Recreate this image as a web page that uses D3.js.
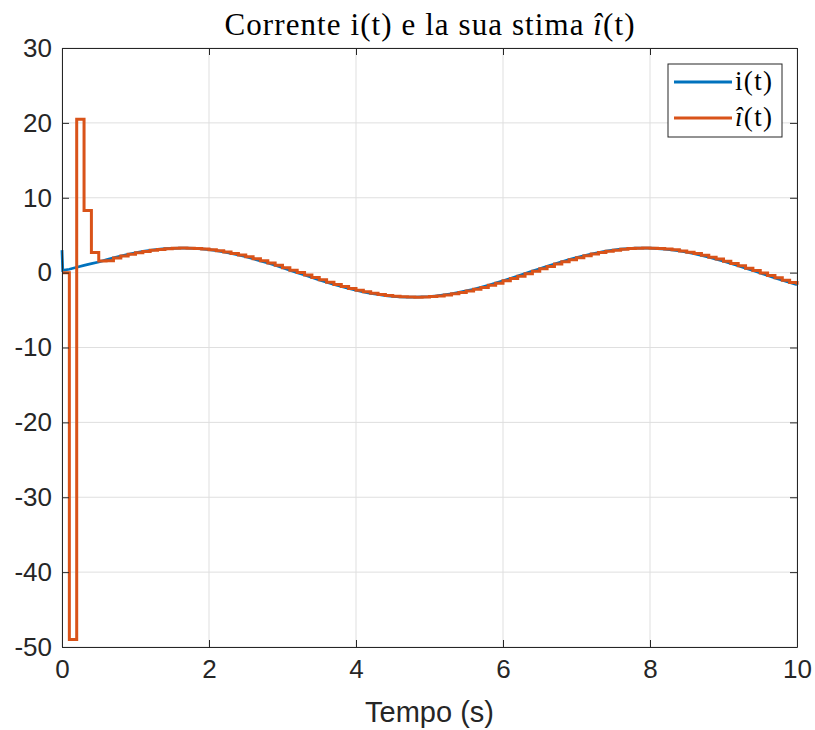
<!DOCTYPE html>
<html>
<head>
<meta charset="utf-8">
<script src="https://cdn.jsdelivr.net/npm/d3@7"></script>
<style>
	body { margin: 0; background: #fff; }
	svg { display: block; }
</style>
</head>
<body>
<script>
// DATA
// axis ticks
const xTicks = [0, 2, 4, 6, 8, 10];
const yTicks = [-50, -40, -30, -20, -10, 0, 10, 20, 30];

// true current i(t): fast initial transient, then samples every 0.1 s from t = 0.1
const iStartT = [0, 0.01];
const iStartV = [3.0, 0.3];
const iTrue = [
	0.45, 0.72, 0.98, 1.2, 1.42, 1.69, 1.96, 2.21, 2.44, 2.65,
	2.83, 2.98, 3.10, 3.19, 3.25, 3.28, 3.27, 3.23, 3.16, 3.06,
	2.93, 2.76, 2.57, 2.36, 2.12, 1.86, 1.58, 1.29, 0.98, 0.66,
	0.33, 0.01, -0.32, -0.65, -0.96, -1.27, -1.57, -1.85, -2.11, -2.35,
	-2.57, -2.76, -2.92, -3.06, -3.16, -3.23, -3.27, -3.28, -3.25, -3.20,
	-3.11, -2.98, -2.83, -2.65, -2.45, -2.22, -1.97, -1.70, -1.41, -1.10,
	-0.79, -0.47, -0.14, 0.19, 0.51, 0.83, 1.15, 1.45, 1.73, 2.00,
	2.25, 2.48, 2.68, 2.86, 3.00, 3.12, 3.21, 3.26, 3.28, 3.27,
	3.22, 3.15, 3.04, 2.90, 2.73, 2.54, 2.31, 2.07, 1.81, 1.53,
	1.23, 0.92, 0.60, 0.28, -0.05, -0.38, -0.70, -1.02, -1.32, -1.62
];

// estimate î(t): one value per 0.1 s sample, t = 0 ... 10, drawn as stairs
const iHat = [
	0, -49, 20.5, 8.3, 2.7, 1.55, 1.6, 1.96, 2.21, 2.44,
	2.65, 2.83, 2.98, 3.10, 3.19, 3.25, 3.28, 3.27, 3.23, 3.16,
	3.06, 2.93, 2.76, 2.57, 2.36, 2.12, 1.86, 1.58, 1.29, 0.98,
	0.66, 0.33, 0.01, -0.32, -0.65, -0.96, -1.27, -1.57, -1.85, -2.11,
	-2.35, -2.57, -2.76, -2.92, -3.06, -3.16, -3.23, -3.27, -3.28, -3.25,
	-3.20, -3.11, -2.98, -2.83, -2.65, -2.45, -2.22, -1.97, -1.70, -1.41,
	-1.10, -0.79, -0.47, -0.14, 0.19, 0.51, 0.83, 1.15, 1.45, 1.73,
	2.00, 2.25, 2.48, 2.68, 2.86, 3.00, 3.12, 3.21, 3.26, 3.28,
	3.27, 3.22, 3.15, 3.04, 2.90, 2.73, 2.54, 2.31, 2.07, 1.81,
	1.53, 1.23, 0.92, 0.60, 0.28, -0.05, -0.38, -0.70, -1.02, -1.32,
	-1.62
];
const dt = 0.1;

// CHART
const w = 815;
const h = 730;
const m = { left: 62, right: 18, top: 48, bottom: 83 };
const blue = "#0072BD";
const orange = "#D95319";
const axisColor = "#262626";
const sans = "'Liberation Sans', Arial, sans-serif";
const serif = "'Liberation Serif', 'DejaVu Serif', serif";

const svg = d3.select("body").append("svg")
	.attr("width", w)
	.attr("height", h);

const x = d3.scaleLinear().domain([0, 10]).range([m.left, w - m.right]);
const y = d3.scaleLinear().domain([-50, 30]).range([h - m.bottom, m.top]);

// grid
svg.append("g")
	.selectAll("line")
	.data(xTicks)
	.join("line")
		.attr("x1", d => x(d)).attr("x2", d => x(d))
		.attr("y1", y(30)).attr("y2", y(-50))
		.attr("stroke", "#dfdfdf");
svg.append("g")
	.selectAll("line")
	.data(yTicks)
	.join("line")
		.attr("x1", x(0)).attr("x2", x(10))
		.attr("y1", d => y(d)).attr("y2", d => y(d))
		.attr("stroke", "#dfdfdf");

// lines
const trueData = iStartT.map((t, i) => [t, iStartV[i]])
	.concat(iTrue.map((v, i) => [(i + 1) * dt, v]));
const hatData = iHat.map((v, i) => [i * dt, v]);

svg.append("path")
	.datum(trueData)
	.attr("d", d3.line().x(d => x(d[0])).y(d => y(d[1])))
	.attr("fill", "none")
	.attr("stroke", blue)
	.attr("stroke-width", 2.8);

svg.append("path")
	.datum(hatData)
	.attr("d", d3.line().curve(d3.curveStepAfter).x(d => x(d[0])).y(d => y(d[1])))
	.attr("fill", "none")
	.attr("stroke", orange)
	.attr("stroke-width", 3)
	.attr("stroke-linejoin", "miter");

// axes (box with inward ticks on all four sides)
const tick = 7;
const xAxisB = d3.axisBottom(x).tickValues(xTicks).tickSizeInner(-tick).tickSizeOuter(0).tickPadding(13);
const xAxisT = d3.axisTop(x).tickValues(xTicks).tickSizeInner(-tick).tickSizeOuter(0).tickFormat("");
const yAxisL = d3.axisLeft(y).tickValues(yTicks).tickSizeInner(-tick).tickSizeOuter(0).tickPadding(10);
const yAxisR = d3.axisRight(y).tickValues(yTicks).tickSizeInner(-tick).tickSizeOuter(0).tickFormat("");

const gxb = svg.append("g").attr("transform", `translate(0, ${y(-50)})`).call(xAxisB);
svg.append("g").attr("transform", `translate(0, ${y(30)})`).call(xAxisT);
const gyl = svg.append("g").attr("transform", `translate(${x(0)}, 0)`).call(yAxisL);
svg.append("g").attr("transform", `translate(${x(10)}, 0)`).call(yAxisR);

svg.selectAll(".domain, .tick line").attr("stroke", axisColor);
svg.selectAll(".tick text")
	.attr("fill", axisColor)
	.style("font-family", sans)
	.style("font-size", "26px");
gxb.selectAll(".tick text").attr("dy", "0.71em");
gyl.selectAll(".tick text").text(d => d < 0 ? "-" + Math.abs(d) : d);

// x label
svg.append("text")
	.attr("x", (x(0) + x(10)) / 2)
	.attr("y", 722)
	.attr("text-anchor", "middle")
	.attr("fill", axisColor)
	.style("font-family", sans)
	.style("font-size", "29px")
	.text("Tempo (s)");

// title
const title = svg.append("text")
	.attr("x", (x(0) + x(10)) / 2)
	.attr("y", 35)
	.attr("text-anchor", "middle")
	.attr("fill", "#000")
	.attr("textLength", 410)
	.attr("lengthAdjust", "spacing")
	.style("font-family", serif)
	.style("font-size", "31px");
title.append("tspan").text("Corrente i(t) e la sua stima ");
title.append("tspan").style("font-style", "italic").text("î");
title.append("tspan").text("(t)");

// legend
const leg = svg.append("g").attr("transform", "translate(668, 64)");
leg.append("rect")
	.attr("width", 114).attr("height", 73)
	.attr("fill", "#fff")
	.attr("stroke", axisColor)
	.attr("stroke-width", 1);
const legItems = [
	{ color: blue, label: ["i", "(t)"], italic: false, y: 18 },
	{ color: orange, label: ["î", "(t)"], italic: true, y: 54 }
];
legItems.forEach(it => {
	leg.append("line")
		.attr("x1", 6).attr("x2", 64)
		.attr("y1", it.y).attr("y2", it.y)
		.attr("stroke", it.color)
		.attr("stroke-width", 3);
	const t = leg.append("text")
		.attr("x", 67).attr("y", it.y + 8)
		.attr("fill", "#000")
		.attr("textLength", 37)
		.attr("lengthAdjust", "spacing")
		.style("font-family", serif)
		.style("font-size", "27px");
	t.append("tspan").style("font-style", it.italic ? "italic" : "normal").text(it.label[0]);
	t.append("tspan").text(it.label[1]);
});
</script>
</body>
</html>
